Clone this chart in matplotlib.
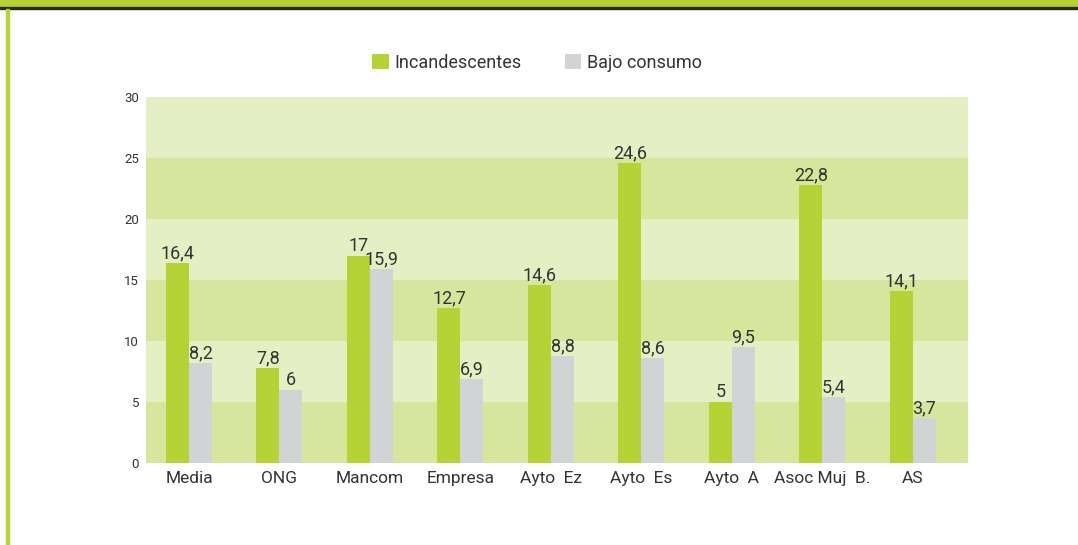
import numpy as np
import matplotlib.pyplot as plt
from matplotlib.patches import Rectangle

categories = ['Media', 'ONG', 'Mancom', 'Empresa', 'Ayto  Ez', 'Ayto  Es',
              'Ayto  A', 'Asoc Muj  B.', 'AS']
incandescentes = [16.4, 7.8, 17, 12.7, 14.6, 24.6, 5, 22.8, 14.1]
bajo_consumo = [8.2, 6, 15.9, 6.9, 8.8, 8.6, 9.5, 5.4, 3.7]
series_names = ['Incandescentes', 'Bajo consumo']

GREEN = '#b5d334'
GREY = '#d1d3d4'
BAND_LIGHT = '#e5efc4'
BAND_DARK = '#d6e69d'
TEXT = '#333333'

plt.rcParams['font.family'] = ['Roboto', 'DejaVu Sans']

fig = plt.figure(figsize=(10.78, 5.45), dpi=100)
ax = fig.add_axes([146 / 1078, 82 / 545, 822 / 1078, 366 / 545])

# frame decoration: top bar and left line
fig.patches.append(Rectangle((0, 1 - 7 / 545), 1, 7 / 545, transform=fig.transFigure,
                             color=GREEN, zorder=0))
fig.patches.append(Rectangle((0, 1 - 9 / 545), 1, 2.5 / 545, transform=fig.transFigure,
                             color='#2d2d1e', zorder=0))
fig.patches.append(Rectangle((6 / 1078, 0), 2.5 / 1078, 1 - 9 / 545,
                             transform=fig.transFigure, color=GREEN, zorder=0))

# background bands
for i, lo in enumerate(range(0, 30, 5)):
    ax.axhspan(lo, lo + 5, color=BAND_DARK if i % 2 == 0 else BAND_LIGHT,
               lw=0, zorder=0)

x = np.arange(len(categories))
w = 0.254
b1 = ax.bar(x - w / 2, incandescentes, w, color=GREEN, label=series_names[0], zorder=2)
b2 = ax.bar(x + w / 2, bajo_consumo, w, color=GREY, label=series_names[1], zorder=2)

def fmt(v):
    return f'{v:g}'.replace('.', ',')

for bars, vals in ((b1, incandescentes), (b2, bajo_consumo)):
    for r, v in zip(bars, vals):
        ax.annotate(fmt(v), (r.get_x() + r.get_width() / 2, v), xytext=(0, 0.5),
                    textcoords='offset points', ha='center', va='bottom',
                    fontsize=13, color=TEXT, zorder=3)

ax.set_xlim(-0.475, 8.608)
ax.set_ylim(0, 30)
ax.set_yticks(range(0, 31, 5))
ax.set_xticks(x)
ax.set_xticklabels(categories, fontsize=12.5, color=TEXT)
ax.tick_params(axis='y', labelsize=9.5, colors=TEXT, length=0, pad=5)
ax.tick_params(axis='x', length=0, pad=6)
for s in ax.spines.values():
    s.set_visible(False)

fig.legend(handles=[b1, b2], labels=series_names, loc='center',
           bbox_to_anchor=(537 / 1078, 1 - 63 / 545), ncol=2, frameon=False,
           fontsize=13, handlelength=0.92, handleheight=0.92, handletextpad=0.3,
           columnspacing=2.4, labelcolor=TEXT)

fig.savefig('out.png', dpi=100)
